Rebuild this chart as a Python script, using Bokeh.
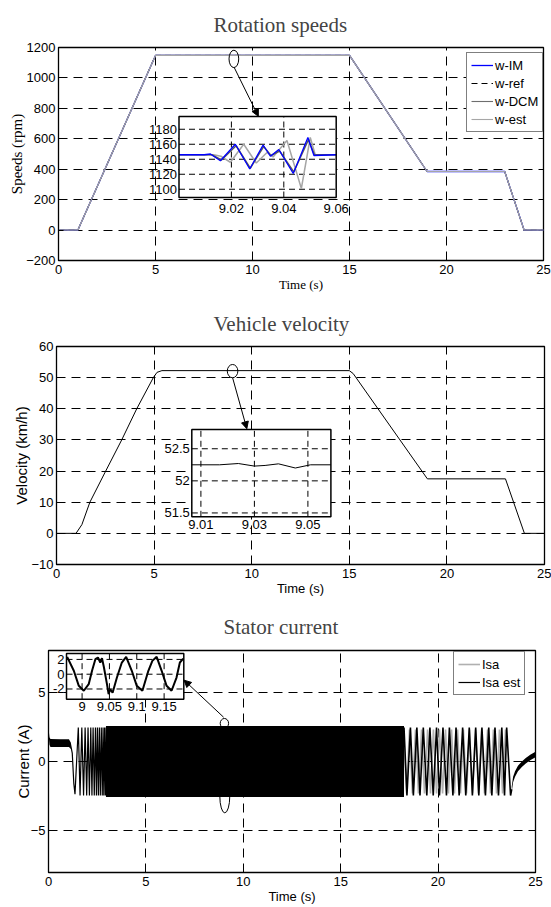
from bokeh.plotting import figure
from bokeh.models import Range1d, FixedTicker, Legend, LegendItem, Arrow, NormalHead
from bokeh.embed import file_html
from bokeh.resources import INLINE
from bokeh.core.properties import value

SERIF = "Liberation Serif"
SANS = "Liberation Sans"

# ------------------------------------------------------------------ data
time_ticks = [0, 5, 10, 15, 20, 25]

# --- Rotation speeds (rpm)
speed_t = [0, 1, 5, 15, 19, 23, 24, 25]
w_ref = [0, 0, 1148, 1148, 385, 385, 0, 0]
w_im = [0, 0, 1148, 1148, 385, 385, 0, 0]
w_dcm = [0, 0, 1148, 1148, 385, 385, 0, 0]
w_est = [0, 0, 1148, 1148, 385, 385, 0, 0]
speed_ticks = [-200, 0, 200, 400, 600, 800, 1000, 1200]

# speed zoom around t = 9 s
zs_im_t = [9.0, 9.0096, 9.0120, 9.0158, 9.0215, 9.0270, 9.0321, 9.0349, 9.0381, 9.0436, 9.0492, 9.0515, 9.06]
zs_im_v = [1146, 1146, 1147, 1138, 1160, 1127, 1159, 1144, 1153, 1121, 1169, 1145, 1146]
zs_dcm_t = [9.0, 9.0100, 9.0125, 9.0162, 9.0218, 9.0272, 9.0323, 9.0351, 9.0384, 9.0438, 9.0494, 9.0517, 9.06]
zs_dcm_v = [1146, 1146, 1146, 1139, 1158, 1128, 1157, 1145, 1151, 1123, 1166, 1146, 1146]
zs_est_t = [9.0, 9.0132, 9.0160, 9.0196, 9.0247, 9.0295, 9.0336, 9.0359, 9.0412, 9.0467, 9.0501, 9.0520, 9.06]
zs_est_v = [1146, 1146, 1144, 1136, 1160, 1135, 1149, 1143, 1165, 1101, 1169, 1146, 1146]
zs_xticks = [9.02, 9.04, 9.06]
zs_xlabels = ["9.02", "9.04", "9.06"]
zs_yticks = [1100, 1120, 1140, 1160, 1180]
zs_ylabels = ["1100", "1120", "1140", "1160", "1180"]
zs_xrange = (9.0, 9.06)
zs_yrange = (1089, 1197)

# --- Vehicle velocity (km/h)
vel_t = [0, 1.0, 1.3, 1.71, 2.52, 3.34, 4.11, 4.96, 5.15, 5.4, 15.0, 15.2, 19.0, 23.0, 23.97, 25]
vel_v = [0, 0, 2.8, 10, 20, 30, 40, 50, 51.7, 52.25, 52.25, 51.3, 17.5, 17.5, 0, 0]
vel_ticks = [-10, 0, 10, 20, 30, 40, 50, 60]

zv_t = [9.0066, 9.017, 9.024, 9.030, 9.034, 9.039, 9.0453, 9.051, 9.0586]
zv_v = [52.25, 52.25, 52.27, 52.23, 52.24, 52.265, 52.20, 52.25, 52.25]
zv_xticks = [9.01, 9.03, 9.05]
zv_xlabels = ["9.01", "9.03", "9.05"]
zv_yticks = [51.5, 52, 52.5]
zv_ylabels = ["51.5", "52", "52.5"]
zv_xrange = (9.0066, 9.0586)
zv_yrange = (51.44, 52.8)

# --- Stator current (A)
cur_ticks = [-5, 0, 5]
# idle (magnetising) band before start
pre_t = [0, 0.05, 0.1, 0.6, 1.05, 1.15]
pre_hi = [2.4, 1.75, 1.62, 1.6, 1.6, 1.35]
pre_lo = [2.0, 1.2, 1.05, 1.05, 1.05, 0.9]
# start-up oscillations (turning points)
start_t = [1.12, 1.22, 1.30, 1.36, 1.45, 1.53, 1.62, 1.71, 1.80, 1.88, 1.96, 2.03, 2.10,
           2.17, 2.23, 2.29, 2.35, 2.41, 2.46, 2.51, 2.56, 2.61, 2.66, 2.71, 2.76, 2.80,
           2.84, 2.88, 2.92, 2.96]
start_i = [1.30, 0.6, -1.6, -2.35, 0.2, 2.45, -2.45, 2.45, -2.45, 2.45, -2.45, 2.45, -2.45,
           2.45, -2.45, 2.45, -2.45, 2.45, -2.45, 2.45, -2.45, 2.45, -2.45, 2.45, -2.45, 2.45,
           -2.45, 2.45, -2.45, 2.45]
# dense full-speed oscillation envelope
dense_t = [2.95, 18.25]
dense_hi = [2.55, 2.55]
dense_lo = [-2.55, -2.55]
# low-speed oscillations (turning points) and stop
low_t = [18.25, 18.40, 18.58, 18.73, 18.91, 19.07, 19.24, 19.42, 19.58, 19.75, 19.92, 20.07,
         20.25, 20.43, 20.58, 20.76, 20.92, 21.08, 21.26, 21.42, 21.60, 21.76, 21.93, 22.09,
         22.25, 22.43, 22.60, 22.76, 22.92, 23.10, 23.27, 23.41, 23.52, 23.72, 23.78]
low_i = [2.45, -2.45, 2.45, -2.45, 2.45, -2.45, 2.45, -2.45, 2.45, -2.45, 2.45, -2.45,
         2.45, -2.45, 2.45, -2.45, 2.45, -2.45, 2.45, -2.45, 2.45, -2.45, 2.45, -2.45,
         2.45, -2.45, 2.45, -2.45, 2.45, -2.45, 2.45, -2.45, 2.45, -2.45, -2.0]
low_gray_t = [17.30, 17.45, 17.61, 17.76, 17.92, 18.07, 18.22, 18.38, 18.53, 18.68, 18.84, 18.99,
              19.15, 19.30, 19.46, 19.61, 19.76, 19.92, 20.07, 20.23, 20.38, 20.53, 20.69, 20.84,
              21.00, 21.15, 21.30, 21.46, 21.61, 21.77, 21.92, 22.07, 22.23, 22.38, 22.54, 22.69,
              22.84, 23.00, 23.15, 23.31, 23.46]
low_gray_i = [2.3, -2.3, 2.3, -2.3, 2.3, -2.3, 2.3, -2.3, 2.3, -2.3, 2.3, -2.3,
              2.3, -2.3, 2.3, -2.3, 2.3, -2.3, 2.3, -2.3, 2.3, -2.3, 2.3, -2.3,
              2.3, -2.3, 2.3, -2.3, 2.3, -2.3, 2.3, -2.3, 2.3, -2.3, 2.3, -2.3,
              2.3, -2.3, 2.3, -2.3, 2.3]
end_t = [23.78, 23.85, 23.95, 24.1, 24.3, 24.5, 24.75, 25.0]
end_hi = [-1.8, -1.1, -0.7, -0.3, 0.0, 0.25, 0.5, 0.7]
end_lo = [-2.2, -1.5, -1.1, -0.7, -0.4, -0.15, 0.1, 0.3]

zc_t = [8.9727, 8.9849, 8.994, 9.0031, 9.0121, 9.0182, 9.0243, 9.029, 9.0333, 9.0364, 9.040,
        9.0455, 9.0485, 9.0515, 9.0558, 9.0637, 9.0727, 9.0806, 9.0909, 9.100, 9.1103,
        9.1212, 9.1285, 9.1364, 9.1455, 9.1545, 9.1636, 9.1727, 9.1788, 9.185]
zc_i = [2.35, 0.46, -1.57, -2.24, -1.35, 0.46, 2.03, 2.26, 1.58, 2.17, 0.9,
        -1.35, -2.7, -2.03, -2.5, -0.45, 1.58, 2.35, 0.46, -1.57, -2.24,
        0.46, 1.8, 2.35, 0.46, -1.57, -2.24, -0.45, 1.58, 2.1]
zc_xticks = [9.0, 9.05, 9.1, 9.15]
zc_xlabels = ["9", "9.05", "9.1", "9.15"]
zc_yticks = [-2, 0, 2]
zc_ylabels = ["-2", "0", "2"]
zc_xrange = (8.9715, 9.186)
zc_yrange = (-3.38, 2.8)

# callout marks: (t, value, width, height) and arrows (t0, v0, t1, v1)
speed_mark = (9.04, 1125, 0.5, 114)
speed_arrow = (9.06, 1068, 10.3, 748)
vel_mark = (9.02, 52.1, 0.54, 4.25)
vel_arrow = (9.02, 50.0, 9.75, 33.6)
cur_marks_t = [9.03, 9.05]
cur_marks_v = [2.75, -2.5]
cur_marks_w = [0.43, 0.51]
cur_marks_h = [0.7, 2.4]
cur_arrow = (8.99, 3.19, 6.96, 5.86)


# ------------------------------------------------------------------ helpers
def make_panel(title, yr, yticks, fl, fr, ft, fb, fw, fh, title_offset, title_standoff):
    p = figure(frame_width=fw, frame_height=fh, min_border_left=fl, min_border_right=fr,
               min_border_top=ft, min_border_bottom=fb,
               x_range=Range1d(0, 25), y_range=Range1d(*yr), title=title,
               output_backend="svg", toolbar_location=None)
    p.title.text_font = SERIF
    p.title.text_font_size = "21px"
    p.title.text_font_style = "normal"
    p.title.align = "left"
    p.title.offset = title_offset
    p.title.standoff = title_standoff
    p.outline_line_color = "black"
    p.outline_line_width = 1.3
    p.background_fill_color = "white"
    p.border_fill_color = "white"
    p.xaxis.ticker = FixedTicker(ticks=time_ticks)
    p.yaxis.ticker = FixedTicker(ticks=yticks)
    p.grid.grid_line_color = "black"
    p.grid.grid_line_dash = "9 6"
    p.grid.grid_line_width = 1
    for ax in (p.xaxis[0], p.yaxis[0]):
        ax.major_tick_in = 5
        ax.major_tick_out = 0
        ax.minor_tick_line_color = None
        ax.axis_line_color = "black"
        ax.major_tick_line_color = "black"
        ax.major_label_text_font = SANS
        ax.major_label_text_font_size = "13px"
        ax.major_label_text_color = "black"
        ax.axis_label_text_font_style = "normal"
        ax.axis_label_text_color = "black"
        ax.major_label_standoff = 4
    p.yaxis.major_label_standoff = 3
    return p


def add_inset(p, fw, fh, box, xr, yr, xt, xl, yt, yl, xlab_dy):
    left, right, top, bottom = box
    sx = (xr[1] - xr[0]) / (right - left)
    sy = (yr[1] - yr[0]) / (bottom - top)
    x0 = xr[0] - left * sx
    ytop = yr[1] + top * sy
    p.extra_x_ranges = {"zoom": Range1d(x0, x0 + fw * sx)}
    p.extra_y_ranges = {"zoom": Range1d(ytop - fh * sy, ytop)}
    kw = dict(x_range_name="zoom", y_range_name="zoom")
    p.quad(left=[xr[0]], right=[xr[1]], bottom=[yr[0]], top=[yr[1]],
           fill_color="white", line_color=None, **kw)
    gx = [t for t in xt if xr[0] < t < xr[1] - 1e-9]
    gy = [v for v in yt if yr[0] < v < yr[1]]
    p.segment(x0=gx, x1=gx, y0=[yr[0]] * len(gx), y1=[yr[1]] * len(gx),
              line_color="black", line_dash="6 4", line_width=1, **kw)
    p.segment(x0=[xr[0]] * len(gy), x1=[xr[1]] * len(gy), y0=gy, y1=gy,
              line_color="black", line_dash="6 4", line_width=1, **kw)
    p.text(x=xt, y=[yr[0]] * len(xt), text=xl, text_align="center", text_baseline="top",
           y_offset=xlab_dy, text_font=value(SANS), text_font_size="13px",
           text_color="black", **kw)
    p.text(x=[xr[0]] * len(yt), y=yt, text=yl, text_align="right", text_baseline="middle",
           x_offset=-2, text_font=value(SANS), text_font_size="13px",
           text_color="black", **kw)
    return kw


def inset_border(p, xr, yr, kw):
    p.quad(left=[xr[0]], right=[xr[1]], bottom=[yr[0]], top=[yr[1]],
           fill_color=None, line_color="black", line_width=1.5, **kw)


def legend(p, items, loc):
    lg = Legend(items=items, location=loc)
    lg.border_line_color = "black"
    lg.border_line_width = 1.5
    lg.background_fill_color = "white"
    lg.background_fill_alpha = 1
    lg.label_text_font = SANS
    lg.label_text_font_size = "13px"
    lg.label_text_color = "black"
    lg.glyph_width = 22
    lg.glyph_height = 16
    lg.label_height = 16
    lg.label_standoff = 2
    lg.spacing = 2
    lg.padding = 4
    lg.margin = 0
    p.add_layout(lg)


def arrow(p, a):
    p.add_layout(Arrow(end=NormalHead(size=7, fill_color="black", line_color="black"),
                       x_start=a[0], y_start=a[1], x_end=a[2], y_end=a[3],
                       line_color="black", line_width=1))


# ------------------------------------------------------------------ panel 1
p1 = make_panel("Rotation speeds", (-200, 1200), speed_ticks, 58, 8, 46, 36, 485, 213, 155, 21)
p1.xaxis.axis_label = "Time (s)"
p1.xaxis.axis_label_text_font = SERIF
p1.xaxis.axis_label_text_font_size = "13px"
p1.xaxis.axis_label_standoff = 0
p1.yaxis.axis_label = "Speeds (rpm)"
p1.yaxis.axis_label_text_font = SERIF
p1.yaxis.axis_label_text_font_size = "15px"
p1.yaxis.axis_label_standoff = -2

r_ref = p1.line(speed_t, w_ref, line_color="black", line_dash="6 4", line_width=1)
r_im = p1.line(speed_t, w_im, line_color="#0000ff", line_width=1.3)
r_dcm = p1.line(speed_t, w_dcm, line_color="#6e6e6e", line_width=1.1)
r_est = p1.line(speed_t, w_est, line_color="#a6a6a6", line_width=1.1)

k1 = add_inset(p1, 485, 213, (120.5, 277.7, 69, 150), zs_xrange, zs_yrange,
               zs_xticks, zs_xlabels, zs_yticks, zs_ylabels, 6)
p1.line(zs_est_t, zs_est_v, line_color="#a6a6a6", line_width=1.5, **k1)
p1.line(zs_dcm_t, zs_dcm_v, line_color="#5a5a5a", line_width=1.5, **k1)
p1.line(zs_im_t, zs_im_v, line_color="#0000ff", line_width=1.3, **k1)
inset_border(p1, zs_xrange, zs_yrange, k1)
p1.ellipse(x=[speed_mark[0]], y=[speed_mark[1]], width=[speed_mark[2]], height=[speed_mark[3]],
           fill_color=None, line_color="black", line_width=1)
arrow(p1, speed_arrow)
legend(p1, [LegendItem(label="w-IM", renderers=[r_im]),
            LegendItem(label="w-ref", renderers=[r_ref]),
            LegendItem(label="w-DCM", renderers=[r_dcm]),
            LegendItem(label="w-est", renderers=[r_est])], (408, 128))

# ------------------------------------------------------------------ panel 2
p2 = make_panel("Vehicle velocity", (-10, 60), vel_ticks, 56, 7, 50, 37, 488, 218, 157, 22)
p2.xaxis.axis_label = "Time (s)"
p2.xaxis.axis_label_text_font = SANS
p2.xaxis.axis_label_text_font_size = "13px"
p2.xaxis.axis_label_standoff = 0
p2.yaxis.axis_label = "Velocity (km/h)"
p2.yaxis.axis_label_text_font = SANS
p2.yaxis.axis_label_text_font_size = "15px"
p2.yaxis.axis_label_standoff = -2

p2.line(vel_t, vel_v, line_color="black", line_width=1)
k2 = add_inset(p2, 488, 218, (135.3, 274.4, 83, 170.3), zv_xrange, zv_yrange,
               zv_xticks, zv_xlabels, zv_yticks, zv_ylabels, 3)
p2.line(zv_t, zv_v, line_color="black", line_width=1, **k2)
inset_border(p2, zv_xrange, zv_yrange, k2)
p2.ellipse(x=[vel_mark[0]], y=[vel_mark[1]], width=[vel_mark[2]], height=[vel_mark[3]],
           fill_color=None, line_color="black", line_width=1)
arrow(p2, vel_arrow)

# ------------------------------------------------------------------ panel 3
p3 = make_panel("Stator current", (-8, 8), cur_ticks, 48, 16, 48, 37, 487, 222, 175, 23)
p3.xaxis.axis_label = "Time (s)"
p3.xaxis.axis_label_text_font = SANS
p3.xaxis.axis_label_text_font_size = "13px"
p3.xaxis.axis_label_standoff = 0
p3.yaxis.axis_label = "Current (A)"
p3.yaxis.axis_label_text_font = SANS
p3.yaxis.axis_label_text_font_size = "15px"
p3.yaxis.axis_label_standoff = -4

r_isa = p3.line(low_gray_t, low_gray_i, line_color="#b0b0b0", line_width=1.6)
p3.varea(x=pre_t, y1=pre_lo, y2=pre_hi, color="black")
r_isa_est = p3.line(start_t, start_i, line_color="black", line_width=1.2)
p3.varea(x=dense_t, y1=dense_lo, y2=dense_hi, color="black")
p3.line(low_t, low_i, line_color="black", line_width=1.6)
p3.varea(x=end_t, y1=end_lo, y2=end_hi, color="black")

k3 = add_inset(p3, 487, 222, (18, 135.3, 3, 48.7), zc_xrange, zc_yrange,
               zc_xticks, zc_xlabels, zc_yticks, zc_ylabels, 3)
p3.line(zc_t, zc_i, line_color="black", line_width=2, **k3)
inset_border(p3, zc_xrange, zc_yrange, k3)
p3.ellipse(x=cur_marks_t, y=cur_marks_v, width=cur_marks_w, height=cur_marks_h,
           fill_color=None, line_color="black", line_width=1)
arrow(p3, cur_arrow)
legend(p3, [LegendItem(label="Isa", renderers=[r_isa]),
            LegendItem(label="Isa est", renderers=[r_isa_est])], (405, 177))

# three independent roots so that each frame keeps its own left edge
open("out.html", "w").write(file_html([p1, p2, p3], INLINE))
